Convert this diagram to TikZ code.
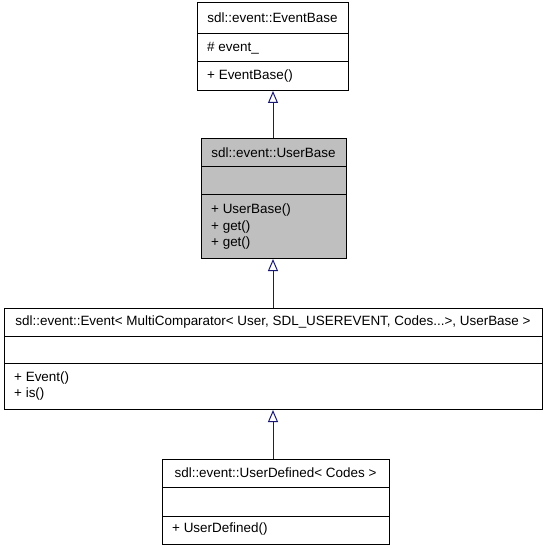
\documentclass[tikz,border=0pt]{standalone}
\usepackage{fontspec}
\setmainfont{Liberation Sans}
\usetikzlibrary{arrows.meta}
\definecolor{edgecol}{HTML}{191970}
\definecolor{graybox}{HTML}{BFBFBF}
\begin{document}
\begin{tikzpicture}[x=1bp,y=-1bp,
  every node/.style={font=\fontsize{13.5}{16}\selectfont},
  classbox/.style={draw=black, line width=1bp, inner sep=0pt, anchor=north west, rectangle},
  divider/.style={draw=black, line width=1bp},
  title/.style={anchor=center, inner sep=0pt},
  member/.style={anchor=west, inner sep=0pt},
  inherit/.style={draw=edgecol, line width=1bp, -{Triangle[open, length=12bp, width=10bp, fill=white]}}
]
\useasboundingbox (0,0) rectangle (547,549);

% EventBase
\node[classbox, fill=white, minimum width=151bp, minimum height=88bp] (eb) at (197,2) {};
\draw[divider] (197,34) -- (348,34);
\draw[divider] (197,62) -- (348,62);
\node[title] (ebt) at (272.5,18) {sdl::event::EventBase};
\node[member] (ebm1) at (207,48) {\# event\_};
\node[member] (ebm2) at (207,76) {+ EventBase()};

% UserBase
\node[classbox, fill=graybox, minimum width=145bp, minimum height=120bp] (ub) at (201,138) {};
\draw[divider] (201,167) -- (346,167);
\draw[divider] (201,195) -- (346,195);
\node[title] (ubt) at (273.5,153) {sdl::event::UserBase};
\node[member] (ubm1) at (211,210) {+ UserBase()};
\node[member] (ubm2) at (211,227) {+ get()};
\node[member] (ubm3) at (211,243) {+ get()};

% Event<...>
\node[classbox, fill=white, minimum width=538bp, minimum height=101bp] (ev) at (4,308) {};
\draw[divider] (4,336) -- (542,336);
\draw[divider] (4,363) -- (542,363);
\node[title] (evt) at (273,322) {sdl::event::Event< MultiComparator< User, SDL\_USEREVENT, Codes...>, UserBase >};
\node[member] (evm1) at (14,378) {+ Event()};
\node[member] (evm2) at (14,394) {+ is()};

% UserDefined
\node[classbox, fill=white, minimum width=227bp, minimum height=85bp] (ud) at (162,459) {};
\draw[divider] (162,487) -- (389,487);
\draw[divider] (162,516) -- (389,516);
\node[title] (udt) at (275.5,473) {sdl::event::UserDefined< Codes >};
\node[member] (udm1) at (172,529) {+ UserDefined()};

% inheritance
\draw[inherit] (ub.north -| 273,0) -- (eb.south -| 273,0);
\draw[inherit] (ev.north -| 273,0) -- (ub.south -| 273,0);
\draw[inherit] (ud.north -| 273,0) -- (ev.south -| 273,0);
\end{tikzpicture}
\end{document}
